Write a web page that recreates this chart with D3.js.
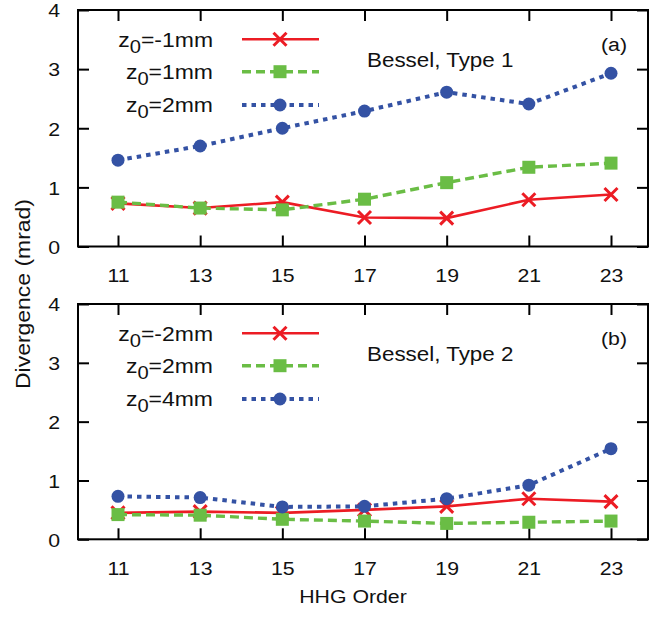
<!DOCTYPE html>
<html>
<head>
<meta charset="utf-8">
<script src="https://cdn.jsdelivr.net/npm/d3@7"></script>
<style>
  body { margin: 0; background: #fff; }
  svg text { font-family: "Liberation Sans", Arial, Helvetica, sans-serif; fill: #111; }
</style>
</head>
<body>
<div id="chart"></div>
<script>
// harmonic orders on the x axis
var orders = [11, 13, 15, 17, 19, 21, 23];
var yTicks = [0, 1, 2, 3, 4];

// panel (a): Bessel, Type 1
var a_zm1 = [0.73, 0.65, 0.75, 0.49, 0.48, 0.79, 0.88];
var a_z1  = [0.75, 0.65, 0.62, 0.80, 1.08, 1.34, 1.41];
var a_z2  = [1.46, 1.70, 2.00, 2.29, 2.61, 2.41, 2.93];
var a_labels = ["-1mm", "1mm", "2mm"];

// panel (b): Bessel, Type 2
var b_zm2 = [0.45, 0.47, 0.45, 0.50, 0.56, 0.69, 0.64];
var b_z2  = [0.42, 0.41, 0.34, 0.31, 0.27, 0.29, 0.31];
var b_z4  = [0.73, 0.71, 0.55, 0.56, 0.69, 0.92, 1.54];
var b_labels = ["-2mm", "2mm", "4mm"];

var W = 650, H = 617;
var left = 78, right = 648;
var sx = 1.12; // the original fonts look a bit stretched horizontally

var svg = d3.select("#chart").append("svg")
    .attr("width", W).attr("height", H);

var x = d3.scaleLinear().domain([11, 23]).range([118, 611]);

var colors = ["#ec1c24", "#6abd45", "#3452a4"];
var dashes = [null, "9,5", "4.5,5"];
var widths = [2.6, 3.4, 4];

var panels = [
    { top: 10, bottom: 246.5, title: "Bessel, Type 1", tag: "(a)",
      series: [a_zm1, a_z1, a_z2], labels: a_labels },
    { top: 304, bottom: 539.3, title: "Bessel, Type 2", tag: "(b)",
      series: [b_zm2, b_z2, b_z4], labels: b_labels }
];

function marker(g, i, cx, cy) {
    var c = colors[i];
    if (i == 0) {
        var s = 6.5;
        g.append("path")
            .attr("d", "M" + (cx - s) + "," + (cy - s) + "L" + (cx + s) + "," + (cy + s) +
                       "M" + (cx - s) + "," + (cy + s) + "L" + (cx + s) + "," + (cy - s))
            .attr("stroke", c).attr("stroke-width", 3).attr("fill", "none");
    } else if (i == 1) {
        g.append("rect")
            .attr("x", cx - 6.5).attr("y", cy - 6.5)
            .attr("width", 13).attr("height", 13)
            .attr("fill", c);
    } else {
        g.append("circle").attr("cx", cx).attr("cy", cy).attr("r", 6.5).attr("fill", c);
    }
}

panels.forEach(function (p, pi) {
    var y = d3.scaleLinear().domain([0, 4]).range([p.bottom, p.top]);
    var g = svg.append("g");

    // inward ticks on all four sides
    var bx = g.append("g").attr("transform", "translate(0," + p.bottom + ")")
        .call(d3.axisBottom(x).tickValues(orders).tickSize(-11).tickSizeOuter(0));
    bx.selectAll("text")
        .attr("y", 35.5).attr("dy", null).attr("x", 0)
        .attr("transform", "scale(" + sx + ",1)")
        .style("font-size", "19px");
    g.append("g").attr("transform", "translate(0," + p.top + ")")
        .call(d3.axisTop(x).tickValues(orders).tickSize(-11).tickSizeOuter(0).tickFormat(""));
    var ly = g.append("g").attr("transform", "translate(" + left + ",0)")
        .call(d3.axisLeft(y).tickValues(yTicks).tickSize(-11).tickSizeOuter(0)
            .tickFormat(d3.format("d")));
    ly.selectAll("text")
        .attr("x", -18 / sx).attr("dy", "0.36em")
        .attr("transform", "scale(" + sx + ",1)")
        .style("font-size", "19px");
    g.append("g").attr("transform", "translate(" + right + ",0)")
        .call(d3.axisRight(y).tickValues(yTicks).tickSize(-11).tickSizeOuter(0).tickFormat(""));

    g.selectAll(".domain").remove();
    g.selectAll(".tick line").attr("stroke", "#000").attr("stroke-width", 2);
    g.selectAll(".tick text").attr("fill", "#111").style("font-family", null);

    g.append("rect")
        .attr("x", left).attr("y", p.top)
        .attr("width", right - left).attr("height", p.bottom - p.top)
        .attr("fill", "none").attr("stroke", "#000").attr("stroke-width", 2);

    // panel title and tag
    g.append("text")
        .attr("transform", "translate(367," + (p.top + 56.5) + ") scale(" + sx + ",1)")
        .style("font-size", "20px")
        .text(p.title);
    g.append("text")
        .attr("transform", "translate(627," + (p.top + 40.5) + ") scale(" + sx + ",1)")
        .attr("text-anchor", "end")
        .style("font-size", "19px")
        .text(p.tag);

    // series
    var line = d3.line()
        .x(function (d, i) { return x(orders[i]); })
        .y(function (d) { return y(d); });

    p.series.forEach(function (vals, si) {
        var sg = g.append("g");
        sg.append("path")
            .attr("d", line(vals))
            .attr("fill", "none")
            .attr("stroke", colors[si])
            .attr("stroke-width", widths[si])
            .attr("stroke-dasharray", dashes[si]);
        vals.forEach(function (v, i) { marker(sg, si, x(orders[i]), y(v)); });
    });

    // legend
    var rows = [29.3, 61.7, 95];
    p.labels.forEach(function (lab, si) {
        var ry = p.top + rows[si];
        var t = g.append("text")
            .attr("transform", "translate(213," + (ry + 7.4) + ") scale(" + sx + ",1)")
            .attr("text-anchor", "end")
            .style("font-size", "20.5px");
        t.append("tspan").text("z");
        t.append("tspan").attr("dy", 6).style("font-size", "18px").text("0");
        t.append("tspan").attr("dy", -6).text("=" + lab);

        g.append("line")
            .attr("x1", 242).attr("x2", 319)
            .attr("y1", ry).attr("y2", ry)
            .attr("stroke", colors[si])
            .attr("stroke-width", widths[si])
            .attr("stroke-dasharray", dashes[si]);
        marker(g, si, 280, ry);
    });
});

// axis titles
svg.append("text")
    .attr("transform", "translate(30,294) rotate(-90) scale(" + sx + ",1)")
    .attr("text-anchor", "middle")
    .style("font-size", "20.5px")
    .text("Divergence (mrad)");

svg.append("text")
    .attr("transform", "translate(353,603) scale(" + sx + ",1)")
    .attr("text-anchor", "middle")
    .style("font-size", "19px")
    .text("HHG Order");
</script>
</body>
</html>
